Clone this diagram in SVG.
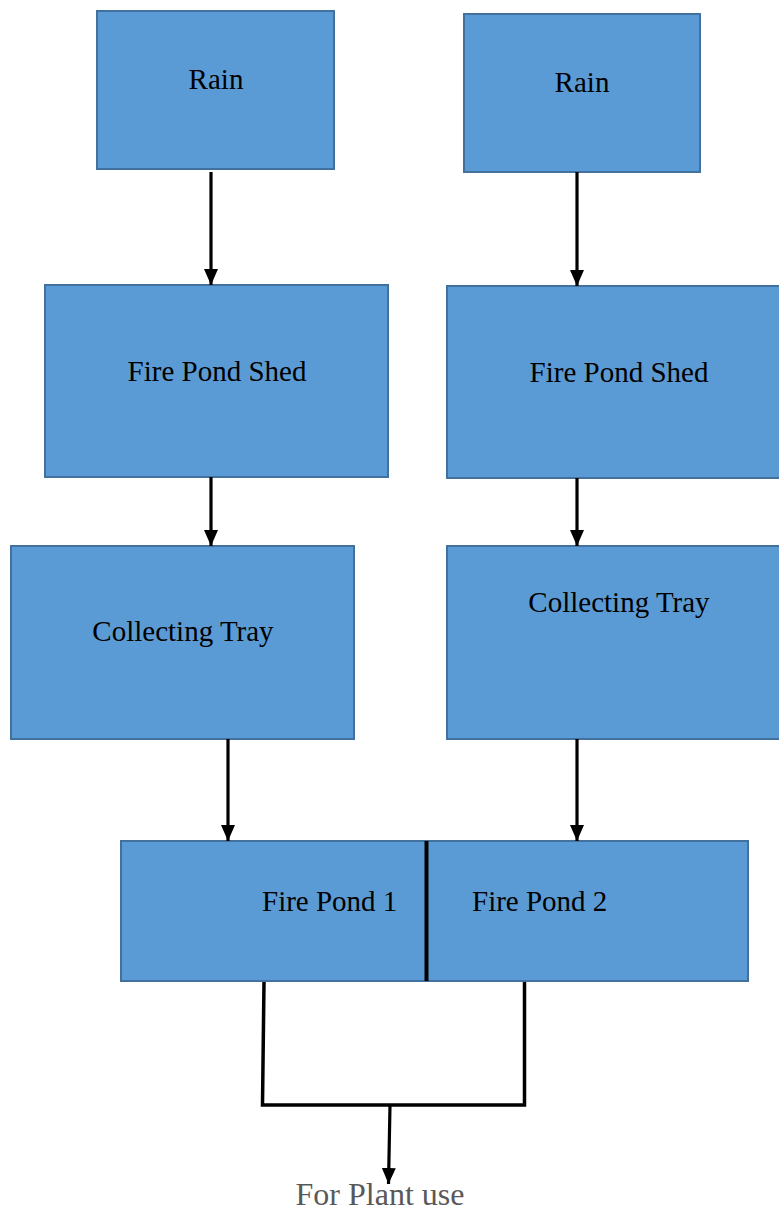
<svg xmlns="http://www.w3.org/2000/svg" width="779" height="1212" viewBox="0 0 779 1212">
  <defs>
    <style>
      .box { fill: #5B9BD5; stroke: #41719C; stroke-width: 2; }
      .label { font-family: "Liberation Serif", "Times New Roman", serif; font-size: 29px; fill: #000; }
      .mid { text-anchor: middle; }
      .wire { stroke: #000; stroke-width: 3.5; fill: none; }
      .flow { stroke: #000; stroke-width: 3.2; fill: none; marker-end: url(#head); }
    </style>
    <marker id="head" markerWidth="16" markerHeight="14" refX="16" refY="7" orient="auto" markerUnits="userSpaceOnUse" viewBox="0 0 16 14">
      <path d="M0,0 L16,7 L0,14 Z" fill="#000"/>
    </marker>
  </defs>

  <rect width="779" height="1212" fill="#fff"/>

  <!-- left column -->
  <g id="rain-1">
    <rect class="box" x="97" y="11" width="237" height="158"/>
    <text class="label mid" x="216" y="89">Rain</text>
  </g>
  <g id="shed-1">
    <rect class="box" x="45" y="285" width="343" height="192"/>
    <text class="label mid" x="217" y="381">Fire Pond Shed</text>
  </g>
  <g id="tray-1">
    <rect class="box" x="11" y="546" width="343" height="193"/>
    <text class="label mid" x="183" y="641">Collecting Tray</text>
  </g>

  <!-- right column -->
  <g id="rain-2">
    <rect class="box" x="464" y="14" width="236" height="158"/>
    <text class="label mid" x="582" y="92">Rain</text>
  </g>
  <g id="shed-2">
    <rect class="box" x="447" y="286" width="336" height="192"/>
    <text class="label mid" x="619" y="382">Fire Pond Shed</text>
  </g>
  <g id="tray-2">
    <rect class="box" x="447" y="546" width="336" height="193"/>
    <text class="label mid" x="619" y="612">Collecting Tray</text>
  </g>

  <!-- shared pond block, split in two -->
  <g id="ponds">
    <rect class="box" x="121" y="841" width="627" height="140"/>
    <line x1="426.5" y1="841" x2="426.5" y2="981" stroke="#000" stroke-width="4"/>
    <text class="label" x="262" y="911">Fire Pond 1</text>
    <text class="label" x="472" y="911">Fire Pond 2</text>
  </g>

  <g id="outlet">
    <text x="380" y="1205" text-anchor="middle" font-family="'Liberation Serif', 'Times New Roman', serif" font-size="32" fill="#595959">For Plant use</text>
  </g>

  <g id="connectors">
    <line class="flow" x1="211" y1="172" x2="211" y2="285"/>
    <line class="flow" x1="211" y1="477" x2="211" y2="546"/>
    <line class="flow" x1="228" y1="739" x2="228" y2="841"/>
    <line class="flow" x1="577" y1="172" x2="577" y2="286"/>
    <line class="flow" x1="577" y1="478" x2="577" y2="546"/>
    <line class="flow" x1="577" y1="739" x2="577" y2="841"/>
    <polyline class="wire" points="264,982 262.5,1105 524.5,1105 524.5,982"/>
    <line class="flow" x1="390" y1="1105" x2="388.5" y2="1184"/>
  </g>
</svg>
